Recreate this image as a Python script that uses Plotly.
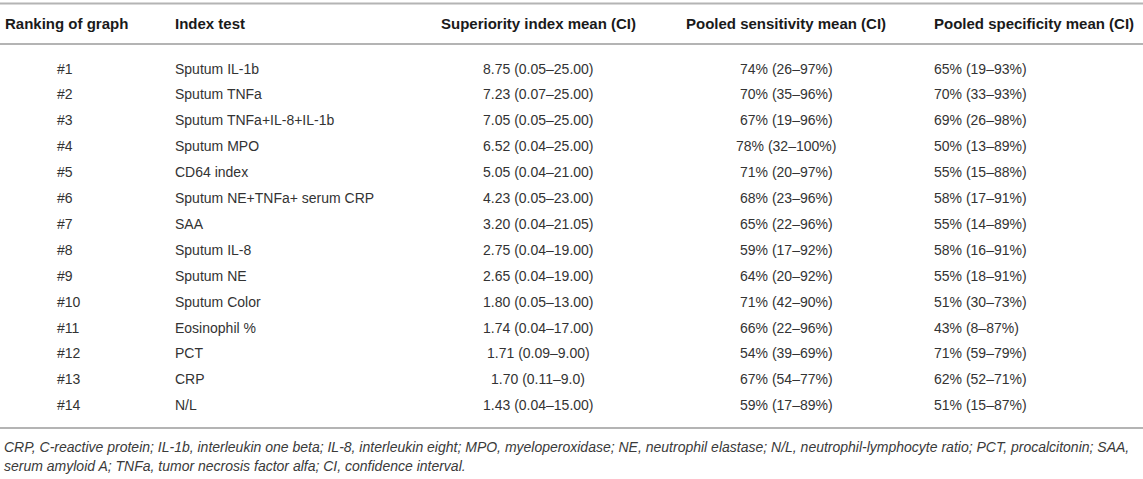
import plotly.graph_objects as go

headers = ["Ranking of graph", "Index test", "Superiority index mean (CI)",
           "Pooled sensitivity mean (CI)", "Pooled specificity mean (CI)"]
ranking = ["#1", "#2", "#3", "#4", "#5", "#6", "#7", "#8", "#9", "#10", "#11", "#12", "#13", "#14"]
index_test = ["Sputum IL-1b", "Sputum TNFa", "Sputum TNFa+IL-8+IL-1b", "Sputum MPO", "CD64 index",
              "Sputum NE+TNFa+ serum CRP", "SAA", "Sputum IL-8", "Sputum NE", "Sputum Color",
              "Eosinophil %", "PCT", "CRP", "N/L"]
superiority = ["8.75 (0.05–25.00)", "7.23 (0.07–25.00)", "7.05 (0.05–25.00)", "6.52 (0.04–25.00)",
               "5.05 (0.04–21.00)", "4.23 (0.05–23.00)", "3.20 (0.04–21.05)", "2.75 (0.04–19.00)",
               "2.65 (0.04–19.00)", "1.80 (0.05–13.00)", "1.74 (0.04–17.00)", "1.71 (0.09–9.00)",
               "1.70 (0.11–9.0)", "1.43 (0.04–15.00)"]
sensitivity = ["74% (26–97%)", "70% (35–96%)", "67% (19–96%)", "78% (32–100%)", "71% (20–97%)",
               "68% (23–96%)", "65% (22–96%)", "59% (17–92%)", "64% (20–92%)", "71% (42–90%)",
               "66% (22–96%)", "54% (39–69%)", "67% (54–77%)", "59% (17–89%)"]
specificity = ["65% (19–93%)", "70% (33–93%)", "69% (26–98%)", "50% (13–89%)", "55% (15–88%)",
               "58% (17–91%)", "55% (14–89%)", "58% (16–91%)", "55% (18–91%)", "51% (30–73%)",
               "43% (8–87%)", "71% (59–79%)", "62% (52–71%)", "51% (15–87%)"]
footnote_lines = [
    "CRP, C-reactive protein; IL-1b, interleukin one beta; IL-8, interleukin eight; MPO, myeloperoxidase; "
    "NE, neutrophil elastase; N/L, neutrophil-lymphocyte ratio; PCT, procalcitonin; SAA,",
    "serum amyloid A; TNFa, tumor necrosis factor alfa; CI, confidence interval.",
]

W, H = 1143, 479
FONT = "Liberation Sans, Arial, Helvetica, sans-serif"
TXT = "#333333"
HDR = "#1a1a1a"
RULE = "#b4b4b4"

# layout (pixel-like axis units)
header_x = [3, 173, 538, 786, 932]
header_anchor = ["left", "left", "center", "center", "left"]
cell_x = [55, 173, 538, 786, 932]
cell_anchor = ["left", "left", "center", "center", "left"]
header_y = 23.5
row_y0, row_step = 68.5, 25.9
rules_y = [3.5, 44, 428]
foot_y = [447, 466]

columns = [ranking, index_test, superiority, sensitivity, specificity]
n_rows = len(ranking)
row_y = [row_y0 + i * row_step for i in range(n_rows)]

fig = go.Figure()
annotations = []
for c, h in enumerate(headers):
    annotations.append(dict(x=header_x[c], y=header_y, xref="x", yref="y", text=f"<b>{h}</b>",
                            showarrow=False, xanchor=header_anchor[c], yanchor="middle",
                            font=dict(family=FONT, size=15, color=HDR)))
for c, col in enumerate(columns):
    for r, val in enumerate(col):
        annotations.append(dict(x=cell_x[c], y=row_y[r], xref="x", yref="y", text=val,
                                showarrow=False, xanchor=cell_anchor[c], yanchor="middle",
                                font=dict(family=FONT, size=14, color=TXT)))
for k, line in enumerate(footnote_lines):
    annotations.append(dict(x=2, y=foot_y[k], xref="x", yref="y", text=f"<i>{line}</i>",
                            showarrow=False, xanchor="left", yanchor="middle",
                            font=dict(family=FONT, size=14, color="#3a3a3a")))

shapes = [dict(type="line", xref="x", yref="y", x0=0, x1=W, y0=y, y1=y,
               line=dict(color=RULE, width=2)) for y in rules_y]

fig.add_trace(go.Scatter(x=[0, W], y=[0, H], mode="markers", marker=dict(opacity=0),
                         hoverinfo="skip", showlegend=False))
fig.update_layout(width=W, height=H, margin=dict(l=0, r=0, t=0, b=0),
                  paper_bgcolor="white", plot_bgcolor="white",
                  xaxis=dict(range=[0, W], visible=False, fixedrange=True),
                  yaxis=dict(range=[H, 0], visible=False, fixedrange=True),
                  annotations=annotations, shapes=shapes, showlegend=False)
fig.write_html("out.html", config={"displayModeBar": False},
               post_script="document.body.style.margin='0';document.body.style.overflow='hidden';")
